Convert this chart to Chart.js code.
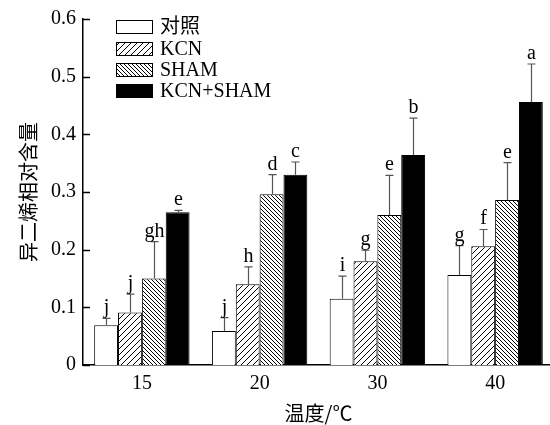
<!DOCTYPE html>
<html><head><meta charset="utf-8">
<script src="https://cdn.jsdelivr.net/npm/chart.js@4/dist/chart.umd.min.js"></script>
<style>html,body{margin:0;padding:0;background:#fff;overflow:hidden;} #wrap{width:556px;height:425px;position:relative;}</style>
</head><body><div id="wrap"><canvas id="c"></canvas></div>
<script>
const categories = ['15','20','30','40'];
const seriesNames = ['对照','KCN','SHAM','KCN+SHAM'];
const yTickLabels = ['0','0.1','0.2','0.3','0.4','0.5','0.6'];
const control = [0.069,0.059,0.115,0.156];
const kcn     = [0.091,0.140,0.180,0.206];
const sham    = [0.150,0.296,0.260,0.286];
const kcnSham = [0.265,0.330,0.364,0.456];
const controlErr = [0.012,0.023,0.039,0.051];
const kcnErr     = [0.032,0.030,0.019,0.029];
const shamErr    = [0.064,0.034,0.069,0.065];
const kcnShamErr = [0.003,0.022,0.064,0.066];
const controlSig = ['j','j','i','g'];
const kcnSig     = ['j','h','g','f'];
const shamSig    = ['gh','d','e','e'];
const kcnShamSig = ['e','c','b','a'];

const SERIF = "'Liberation Serif','Noto Sans CJK SC',serif";
const CJK = "'Noto Sans CJK SC',sans-serif";

function hatch(dir, s){
  const c = document.createElement('canvas');
  c.width = s; c.height = s;
  const g = c.getContext('2d');
  g.fillStyle = '#fff'; g.fillRect(0,0,s,s);
  g.strokeStyle = '#000'; g.lineWidth = 1;
  g.beginPath();
  if (dir === '/') {
    for (const o of [-s,0,s]) { g.moveTo(o-1, s+1); g.lineTo(o+s+1, -1); }
  } else {
    for (const o of [-s,0,s]) { g.moveTo(o-1, -1); g.lineTo(o+s+1, s+1); }
  }
  g.stroke();
  return document.getElementById('c').getContext('2d').createPattern(c,'repeat');
}
const patKCN = hatch('/', 6);
const patSHAM = hatch('\\', 4);

const errs = [controlErr, kcnErr, shamErr, kcnShamErr];
const sigs = [controlSig, kcnSig, shamSig, kcnShamSig];
const fills = ['#ffffff', patKCN, patSHAM, '#000000'];
const values = [control, kcn, sham, kcnSham];

const extras = {
  id: 'extras',
  afterDatasetsDraw(chart){
    const ctx = chart.ctx;
    const y = chart.scales.y, area = chart.chartArea;
    ctx.save();
    // inward y ticks
    ctx.strokeStyle = '#000'; ctx.lineWidth = 1.5;
    for (let i = 0; i < yTickLabels.length; i++) {
      const v = parseFloat(yTickLabels[i]);
      const py = Math.round(y.getPixelForValue(v)) + 0.5;
      ctx.beginPath(); ctx.moveTo(area.left, py); ctx.lineTo(area.left + 7, py); ctx.stroke();
    }
    // error bars & letters
    chart.data.datasets.forEach((ds, di) => {
      const meta = chart.getDatasetMeta(di);
      meta.data.forEach((bar, i) => {
        const v = ds.data[i];
        const top = y.getPixelForValue(v + errs[di][i]);
        const base = y.getPixelForValue(v);
        const x = Math.round(bar.x) + 0.5;
        ctx.strokeStyle = '#555'; ctx.lineWidth = 1.2;
        ctx.beginPath();
        ctx.moveTo(x, base); ctx.lineTo(x, top);
        ctx.moveTo(x - 4, top); ctx.lineTo(x + 4, top);
        ctx.stroke();
        ctx.fillStyle = '#000';
        ctx.font = '20px ' + SERIF;
        ctx.textAlign = 'center'; ctx.textBaseline = 'alphabetic';
        ctx.fillText(sigs[di][i], x, top - 5);
      });
    });
    // legend
    const rows = [27, 49, 70, 91];
    for (let i = 0; i < seriesNames.length; i++) {
      const cy = rows[i];
      ctx.fillStyle = fills[i];
      ctx.fillRect(116, cy - 7, 37, 14);
      ctx.strokeStyle = '#000'; ctx.lineWidth = 1;
      ctx.strokeRect(116.5, cy - 6.5, 36, 13);
      ctx.fillStyle = '#000';
      ctx.font = '20px ' + SERIF;
      ctx.textAlign = 'left'; ctx.textBaseline = 'middle';
      ctx.fillText(seriesNames[i], 160, cy + 1);
    }
    ctx.restore();
  }
};

new Chart(document.getElementById('c'), {
  type: 'bar',
  data: {
    labels: categories,
    datasets: seriesNames.map((n, i) => ({
      label: n,
      data: values[i],
      backgroundColor: fills[i],
      borderColor: '#000',
      borderWidth: 1,
      categoryPercentage: 0.81,
      barPercentage: 1.0
    }))
  },
  options: {
    responsive: true,
    maintainAspectRatio: false,
    animation: false,
    layout: { padding: { top: 19, right: 2, left: 0, bottom: 0 } },
    plugins: { legend: { display: false }, tooltip: { enabled: false } },
    scales: {
      x: {
        grid: { display: false, drawTicks: false },
        border: { color: '#000', width: 1.5 },
        ticks: { color: '#000', font: { family: SERIF, size: 20 }, padding: 7 },
        title: { display: true, text: '温度/℃', color: '#000', font: { family: CJK, size: 20 }, padding: { top: 8, bottom: 0 } },
        afterFit: s => { s.height = 60; }
      },
      y: {
        min: 0, max: 0.6,
        grid: { display: false, drawTicks: false },
        border: { color: '#000', width: 1.5 },
        ticks: { stepSize: 0.1, color: '#000', font: { family: SERIF, size: 20 }, padding: 7,
                 callback: (v, i) => yTickLabels[i] },
        title: { display: true, text: '异二烯相对含量', color: '#000', font: { family: CJK, size: 20 }, padding: { top: 16, bottom: 0 } },
        afterFit: s => { s.width = 83; }
      }
    }
  },
  plugins: [extras]
});
</script>
</body></html>
